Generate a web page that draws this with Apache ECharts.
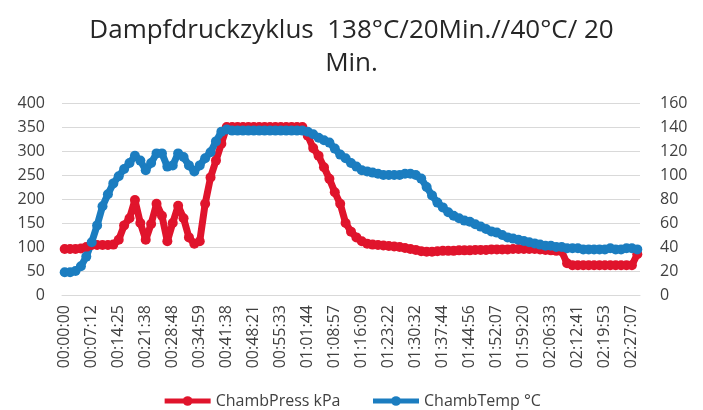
<!DOCTYPE html>
<html><head><meta charset="utf-8">
<script src="https://cdn.jsdelivr.net/npm/echarts@6/dist/echarts.min.js"></script>
<style>html,body{margin:0;padding:0;background:#fff}#c{width:703px;height:410px}</style>
</head><body><div id="c"></div>
<script>
const titleText = 'Dampfdruckzyklus  138°C/20Min.//40°C/ 20\nMin.';
const tickLabels = ['00:00:00','00:07:12','00:14:25','00:21:38','00:28:48','00:34:59','00:41:38','00:48:21','00:55:33','01:01:44','01:08:57','01:16:09','01:23:22','01:30:32','01:37:44','01:44:56','01:52:07','01:59:20','02:06:33','02:12:41','02:19:53','02:27:07'];
const pointsPerLabel = 5;
const trailingPoints = 1;
const pressureName = 'ChambPress kPa';
const tempName = 'ChambTemp °C';
const pressure = [
  96,96,96,97,100,104,104,104,104,105,
  115,145,160,198,150,115,148,190,165,112,150,186,160,120,107,112,190,245,280,315,350,
  350,350,350,350,350,350,350,350,350,350,350,350,350,350,
  332,306,290,266,242,214,190,150,132,120,112,107,105,104,103,102,101,100,98,96,94,91,90,90,91,92,92,92,93,93,93,94,94,94,95,95,95,95,96,96,96,96,96,95,94,93,92,91,
  66,
  62,62,62,62,62,62,62,62,62,62,62,62,
  85
];
const temperature = [
  19,19,20,24,32,44,58,74,84,93,
  99,105,110,116,112,104,110,118,118,107,108,118,115,108,103,108,114,119,128,136,138,
  137,137,137,137,137,137,137,137,137,137,137,137,137,137,
  136,134,131,129,127,122,117,114,110,107,104,103,102,101,100,100,100,100,101,101,100,97,90,83,77,73,69,66,64,62,61,59,57,55,53,52,50,48,47,46,45,44,43,42,41,41,40,40,
  39,
  39,39,38,38,38,38,38,39,38,38,39,39,
  38
];

const categories = [];
tickLabels.forEach((t, j) => {
  categories.push(t);
  if (j < tickLabels.length - 1) for (let k = 1; k < pointsPerLabel; k++) categories.push('');
});
for (let k = 0; k < trailingPoints; k++) categories.push('');

const font = 'Open Sans';
const labelColor = '#404040';
const gridColor = '#D9D9D9';
const chart = echarts.init(document.getElementById('c'));
chart.setOption({
  animation: false,
  backgroundColor: '#fff',
  title: {
    text: titleText, left: 'center', top: 9,
    textStyle: { fontFamily: font, fontWeight: 'normal', fontSize: 26, lineHeight: 33, color: '#262626' }
  },
  legend: {
    top: 388, left: 'center', itemWidth: 46, itemHeight: 12, itemGap: 30,
    lineStyle: { width: 5 },
    textStyle: { fontFamily: font, fontSize: 16, color: labelColor },
    data: [pressureName, tempName]
  },
  grid: { left: 62, right: 63, top: 103, bottom: 115 },
  xAxis: {
    type: 'category', data: categories, boundaryGap: true,
    axisLine: { lineStyle: { color: gridColor, width: 1 } },
    axisTick: { show: false },
    axisLabel: { interval: pointsPerLabel - 1, rotate: 90, fontFamily: font, fontSize: 16, color: labelColor, margin: 10 }
  },
  yAxis: [
    { type: 'value', min: 0, max: 400, interval: 50,
      axisLine: { show: false }, axisTick: { show: false },
      splitLine: { lineStyle: { color: gridColor, width: 1 } },
      axisLabel: { fontFamily: font, fontSize: 16, color: labelColor, margin: 17 } },
    { type: 'value', min: 0, max: 160, interval: 20, position: 'right',
      axisLine: { show: false }, axisTick: { show: false }, splitLine: { show: false },
      axisLabel: { fontFamily: font, fontSize: 16, color: labelColor, margin: 20 } }
  ],
  series: [
    { name: pressureName, type: 'line', yAxisIndex: 0, data: pressure,
      symbol: 'circle', symbolSize: 10, showAllSymbol: true,
      itemStyle: { color: '#E0142C' }, lineStyle: { color: '#E0142C', width: 7 } },
    { name: tempName, type: 'line', yAxisIndex: 1, data: temperature,
      symbol: 'circle', symbolSize: 10, showAllSymbol: true,
      itemStyle: { color: '#1B7DC0' }, lineStyle: { color: '#1B7DC0', width: 7 } }
  ]
});
</script></body></html>
